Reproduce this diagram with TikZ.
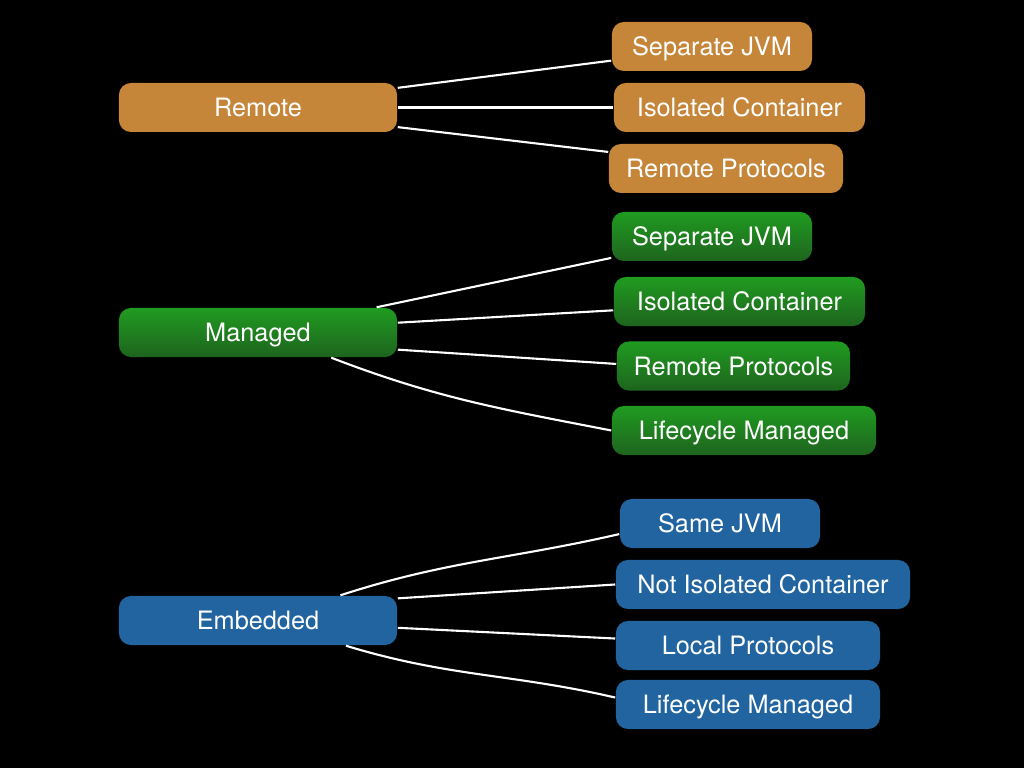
\documentclass[tikz,border=0pt]{standalone}
\usepackage{fontspec}
\setmainfont{TeX Gyre Heros}
\usetikzlibrary{positioning}
\definecolor{remcol}{RGB}{197,134,58}
\definecolor{mantop}{RGB}{32,155,32}
\definecolor{manbot}{RGB}{30,100,30}
\definecolor{embcol}{RGB}{33,100,160}
\begin{document}
\begin{tikzpicture}[x=0.01cm,y=0.01cm,
  box/.style={rounded corners=0.12cm,minimum height=0.49cm,inner sep=0pt,
    text height=5.2pt,text depth=0pt,
    text=white,font=\fontsize{7.2}{8}\selectfont},
  rembox/.style={box,fill=remcol},
  manbox/.style={box,top color=mantop,bottom color=manbot},
  embbox/.style={box,fill=embcol},
  link/.style={white,line width=0.6pt}]
\def\mw{2.78cm}
\fill[black] (0,0) rectangle (1024,-768);
% Remote
\node[rembox,minimum width=\mw]    (rem) at (258,-107.5) {Remote};
\node[rembox,minimum width=2.00cm] (r1)  at (712,-46.5)  {Separate JVM};
\node[rembox,minimum width=2.51cm] (r2)  at (739.5,-107.5) {Isolated Container};
\node[rembox,minimum width=2.34cm] (r3)  at (726,-168.5) {Remote Protocols};
\draw[link] (rem.8)  -- (r1.188);
\draw[link] (rem.east) -- (r2.west);
\draw[link] (rem.-8) -- (r3.172);
% Managed
\node[manbox,minimum width=\mw]    (man) at (258,-332.5) {Managed};
\node[manbox,minimum width=2.00cm] (m1)  at (712,-236.5) {Separate JVM};
\node[manbox,minimum width=2.51cm] (m2)  at (739.5,-301.5) {Isolated Container};
\node[manbox,minimum width=2.33cm] (m3)  at (733.5,-366) {Remote Protocols};
\node[manbox,minimum width=2.64cm] (m4)  at (744,-430.5) {Lifecycle Managed};
\draw[link] (man.12) -- (m1.192);
\draw[link] (man.4)  -- (m2.184);
\draw[link] (man.-7) -- (m3.179);
\draw[link] (man.-19) to[out=-21,in=169] (m4.west);
% Embedded
\node[embbox,minimum width=\mw]    (emb) at (258,-620.5) {Embedded};
\node[embbox,minimum width=2.00cm] (e1)  at (720,-523.5) {Same JVM};
\node[embbox,minimum width=2.94cm] (e2)  at (763,-584.5) {Not Isolated Container};
\node[embbox,minimum width=2.64cm] (e3)  at (748,-645.5) {Local Protocols};
\node[embbox,minimum width=2.64cm] (e4)  at (748,-704.5) {Lifecycle Managed};
\draw[link] (emb.17) to[out=18,in=193] (e1.186);
\draw[link] (emb.9)  -- (e2.west);
\draw[link] (emb.-3) -- (e3.177);
\draw[link] (emb.-16) to[out=-17,in=167] (e4.177);
\end{tikzpicture}
\end{document}
